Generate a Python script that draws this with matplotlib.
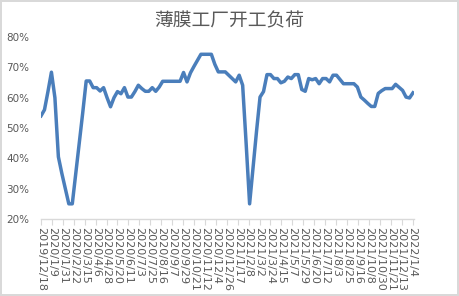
# 薄膜工厂开工负荷 - weekly line chart in Excel style
import matplotlib
matplotlib.use('Agg')
import matplotlib.pyplot as plt
import matplotlib.ticker as mticker
import pandas as pd

# Weekly dates (Wednesdays) and load values in %
fechas = pd.date_range('2019-12-18', periods=108, freq='7D')
carga = [
    54, 56, 62, 68.4, 60, 40.5, 35, 30, 25, 25,
    35, 45, 55, 65.5, 65.5, 63.3, 63.3, 62.2, 63.3, 60,
    57, 60, 62, 61.3, 63.3, 60.2, 60.2, 62, 64.1, 63,
    62.1, 62.1, 63.3, 62.1, 63.5, 65.4, 65.4, 65.4, 65.4, 65.4,
    65.4, 68.3, 65.2, 68.2, 70.3, 72.3, 74.3, 74.3, 74.3, 74.3,
    71, 68.5, 68.5, 68.5, 67.4, 66.3, 65.2, 67.4, 64.1, 45,
    25, 37, 49, 60.2, 62, 67.6, 67.6, 66.3, 66.3, 64.9,
    65.4, 66.8, 66.3, 67.6, 67.6, 62.7, 62.1, 66.3, 65.9, 66.3,
    64.6, 66.3, 66.3, 65.2, 67.4, 67.4, 66, 64.6, 64.6, 64.6,
    64.6, 63.5, 60.2, 59.2, 58.1, 57.1, 57.1, 61.4, 62.3, 63,
    63, 63, 64.4, 63.4, 62.4, 60.2, 59.9, 61.6,
]
fechas_ticks = pd.date_range('2019-12-18', '2022-01-04', freq='22D')
etiquetas_x = [f'{d.year}/{d.month}/{d.day}' for d in fechas_ticks]
valores_y = [20, 30, 40, 50, 60, 70, 80]

gris = '#595959'
gris_claro = '#D9D9D9'

fig = plt.figure(figsize=(4.59, 2.96), dpi=100)
fig.patch.set_edgecolor(gris_claro)
fig.patch.set_linewidth(1.5)
ax = fig.add_axes([40.5 / 459, 1 - 219 / 296, 373 / 459, 182 / 296])

ax.plot(fechas, carga, color='#4A7EBB', lw=2.5, solid_joinstyle='round')

ax.set_ylim(20, 80)
ax.set_yticks(valores_y)
ax.yaxis.set_major_formatter(mticker.FuncFormatter(lambda v, p: f'{v:.0f}%'))
ax.set_xlim(fechas[0] - pd.Timedelta(days=1), fechas[-1] + pd.Timedelta(days=1))
ax.set_xticks(fechas_ticks)
ax.set_xticklabels(etiquetas_x, rotation=-90)

for s in ['top', 'right', 'left']:
    ax.spines[s].set_visible(False)
ax.spines['bottom'].set_color(gris_claro)
ax.spines['bottom'].set_linewidth(1)
ax.tick_params(axis='y', length=0, labelsize=7.5, labelcolor=gris, pad=8)
ax.tick_params(axis='x', length=4, color=gris_claro, labelsize=8, labelcolor=gris, pad=2)
for t in ax.get_xticklabels():
    t.set_va('top')
    t.set_ha('center')

fig.text(0.5, 1 - 21 / 296, '薄膜工厂开工负荷', ha='center', va='center',
         fontsize=13.5, color=gris, family=['Noto Sans CJK SC', 'DejaVu Sans'])

plt.savefig('out.png', dpi=100)
